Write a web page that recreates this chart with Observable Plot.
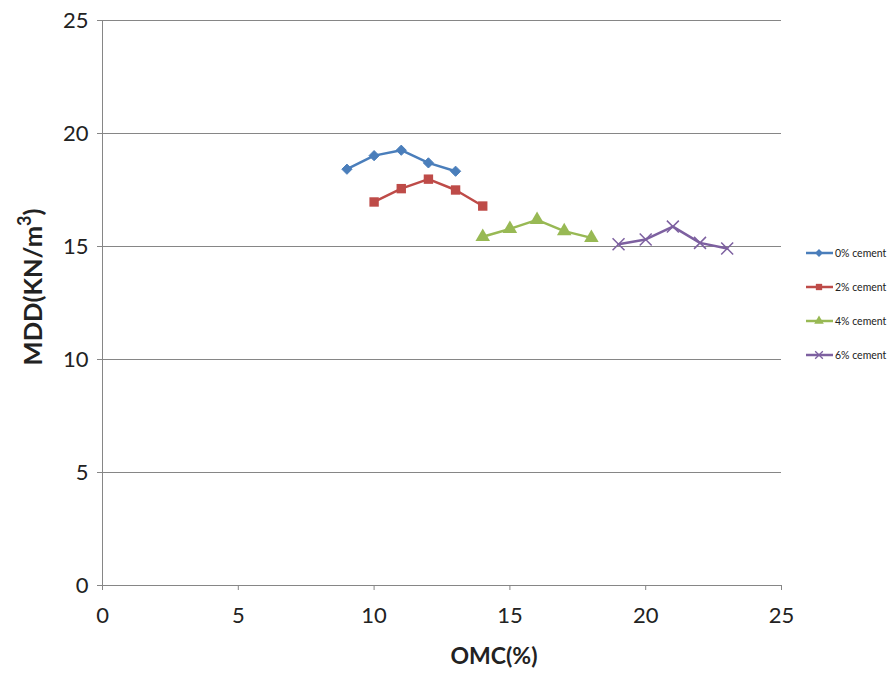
<!DOCTYPE html>
<html><head><meta charset="utf-8">
<script src="https://cdn.jsdelivr.net/npm/d3@7"></script>
<script src="https://cdn.jsdelivr.net/npm/@observablehq/plot@0.6"></script>
<style>
body{margin:0;background:#fff;}
#wrap{position:relative;width:896px;height:673px;}
</style>
</head><body><div id="wrap"></div>
<script>
const seriesNames = ["0% cement","2% cement","4% cement","6% cement"];
const omc0 = [9,10,11,12,13];
const mdd0 = [18.42,19.02,19.26,18.70,18.33];
const omc2 = [10,11,12,13,14];
const mdd2 = [16.97,17.56,17.98,17.50,16.79];
const omc4 = [14,15,16,17,18];
const mdd4 = [15.43,15.78,16.18,15.68,15.38];
const omc6 = [19,20,21,22,23];
const mdd6 = [15.10,15.31,15.88,15.16,14.91];
const colors = ["#4a7ebb","#be4b48","#98b954","#7d60a0"];
const symbols = ["diamond2","square","triangle","times"];
const xTicks = [0,5,10,15,20,25];
const yTicks = [0,5,10,15,20,25];

const allX = [omc0,omc2,omc4,omc6];
const allY = [mdd0,mdd2,mdd4,mdd6];
const data = [];
seriesNames.forEach((s,i)=>allX[i].forEach((x,j)=>data.push({series:s,idx:i,x,y:allY[i][j]})));

const font = "Lato, 'Open Sans', sans-serif";
const marks = [
  Plot.gridY(yTicks.filter(d=>d>0), {stroke:"#868686", strokeOpacity:1, strokeWidth:1}),
  Plot.ruleX([0], {stroke:"#868686"}),
  Plot.ruleY([0], {stroke:"#868686"}),
  Plot.axisX(xTicks, {tickSize:5, stroke:"#868686", fontSize:22, tickPadding:17, color:"#222", label:null}),
  Plot.axisY(yTicks, {tickSize:5, stroke:"#868686", fontSize:22, tickPadding:9, color:"#222", label:null}),
];
seriesNames.forEach((s,i)=>{
  const d = data.filter(r=>r.idx===i);
  marks.push(Plot.line(d,{x:"x",y:"y",stroke:colors[i],strokeWidth:2.5}));
  if (symbols[i]==="times") {
    marks.push(Plot.dot(d,{x:"x",y:"y",symbol:"times",stroke:colors[i],strokeWidth:1.5,r:5.5}));
  } else if (symbols[i]==="diamond2") {
    marks.push(Plot.dot(d,{x:"x",y:"y",symbol:"diamond2",fill:colors[i],stroke:colors[i],strokeWidth:1,r:4.6}));
  } else if (symbols[i]==="square") {
    marks.push(Plot.dot(d,{x:"x",y:"y",symbol:"square",fill:colors[i],stroke:"none",r:5.3}));
  } else {
    marks.push(Plot.dot(d,{x:"x",y:"y",symbol:"triangle",fill:colors[i],stroke:"none",r:5.4}));
  }
});

const chart = Plot.plot({
  width:896, height:673,
  marginLeft:102, marginRight:115, marginTop:20, marginBottom:88,
  style:{fontFamily:font, background:"#fff", color:"#222"},
  x:{domain:[0,25], label:null},
  y:{domain:[0,25], label:null},
  marks
});
const wrap = document.getElementById("wrap");
wrap.appendChild(chart);

const svg = d3.select(chart);
// axis titles
svg.append("text").attr("x",494).attr("y",664).attr("text-anchor","middle")
  .attr("font-family",font).attr("font-weight","bold").attr("font-size",23).attr("fill","#222").text("OMC(%)");
const yt = svg.append("text").attr("transform","translate(42,287) rotate(-90)").attr("text-anchor","middle")
  .attr("font-family",font).attr("font-weight","bold").attr("font-size",25.5).attr("fill","#222");
yt.append("tspan").text("MDD(KN/m");
yt.append("tspan").attr("font-size",18).attr("dy",-11).text("3");
yt.append("tspan").attr("dy",11).text(")");

// legend
const lg = svg.append("g").attr("font-family",font).attr("font-size",10.5).attr("fill","#222").attr("text-anchor","start");
seriesNames.forEach((s,i)=>{
  const cy = 253 + i*34;
  lg.append("line").attr("x1",806).attr("x2",833).attr("y1",cy).attr("y2",cy).attr("stroke",colors[i]).attr("stroke-width",2.5);
  const sym = {diamond2:d3.symbolDiamond2,square:d3.symbolSquare,triangle:d3.symbolTriangle,times:d3.symbolTimes}[symbols[i]];
  const p = lg.append("path").attr("d",d3.symbol(sym,40)()).attr("transform",`translate(819,${cy})`);
  if (symbols[i]==="times") p.attr("fill","none").attr("stroke",colors[i]).attr("stroke-width",1.3);
  else p.attr("fill",colors[i]);
  lg.append("text").attr("x",835).attr("y",cy+3.5).text(s);
});
</script></body></html>
